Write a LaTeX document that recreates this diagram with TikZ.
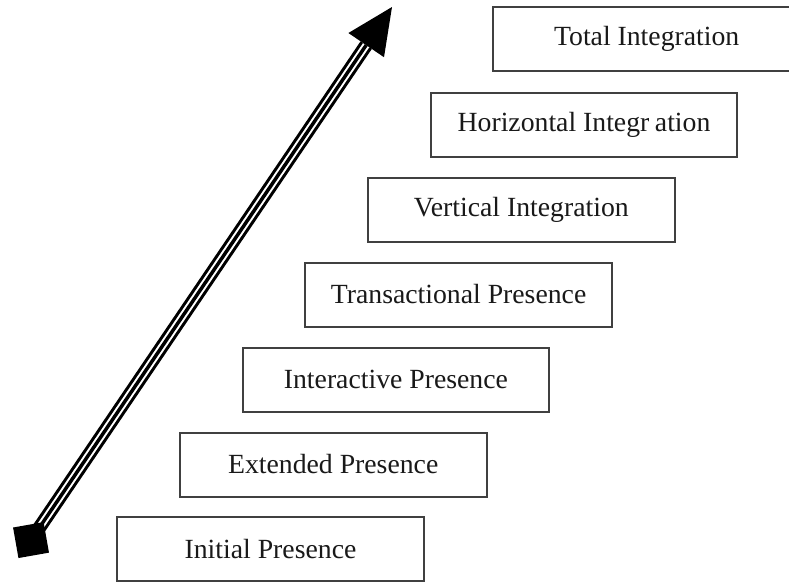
\documentclass[tikz,border=0pt]{standalone}
\usepackage{fontspec}
\usetikzlibrary{calc}
\setmainfont{Liberation Serif}
\begin{document}
\begin{tikzpicture}[x=0.75pt,y=-0.75pt,
  stagebox/.style={draw=black!75, line width=1.5pt, fill=white,
    minimum width=230pt, minimum height=48pt, inner sep=0pt,
    font=\fontsize{20.8}{25}\selectfont, text=black!90},
  shaftouter/.style={line width=10.2pt, draw=black},
  shaftgap/.style={line width=5.6pt, draw=white},
  shaftcore/.style={line width=2.6pt, draw=black}]
\useasboundingbox (0,0) rectangle (789,583);

% stages, rising from bottom left to top right
\node[stagebox] (initial)       at (270.5,549) {Initial Presence};
\node[stagebox] (extended)      at (333.2,464.5) {Extended Presence};
\node[stagebox] (interactive)   at (395.9,379.5) {Interactive Presence};
\node[stagebox] (transactional) at (458.6,294.5) {Transactional Presence};
\node[stagebox] (vertical)      at (521.3,209.5) {Vertical Integration};
\node[stagebox] (horizontal)    at (584.0,124.5) {Horizontal Integr\kern0.2em ation};
\node[stagebox] (total)         at (646.7,39)  {Total Integration};

% the growth arrow: triple-line shaft, square tail, triangular head
\coordinate (tail) at (31,540);
\coordinate (headbase) at (366.2,45.1);
\coordinate (tip) at (392,7);
\coordinate (hl) at (348.4,33);
\coordinate (hr) at (384,57.2);
\draw[shaftouter] (tail) -- (headbase);
\draw[shaftgap] (tail) -- (headbase);
\draw[shaftcore] (tail) -- (headbase);
\fill[black, rotate around={10:(tail)}] ($(tail)+(-15.5,-15.5)$) rectangle ($(tail)+(15.5,15.5)$);
\fill[black] (tip) -- (hl) -- (hr) -- cycle;
\end{tikzpicture}
\end{document}
